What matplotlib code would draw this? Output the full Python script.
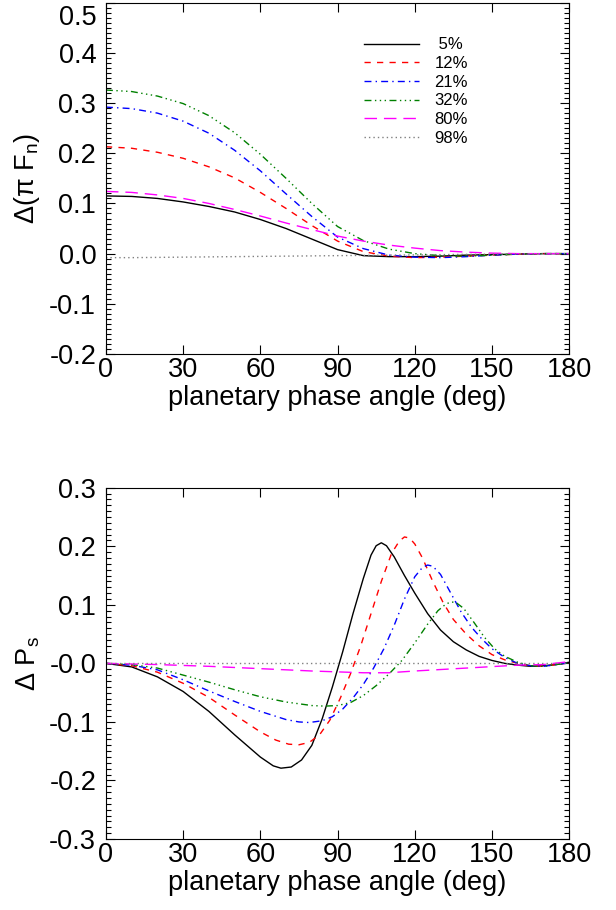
import matplotlib
matplotlib.use("Agg")
import matplotlib.pyplot as plt
from matplotlib.ticker import MultipleLocator, FixedLocator
from matplotlib.transforms import ScaledTranslation

plt.rcParams["font.family"] = ["Liberation Sans", "DejaVu Sans"]
plt.rcParams["mathtext.fontset"] = "custom"
plt.rcParams["mathtext.rm"] = "Liberation Sans"
plt.rcParams["mathtext.it"] = "Liberation Sans"

# ---- data ----
labels = [" 5%", "12%", "21%", "32%", "80%", "98%"]

# top panel: Delta(pi F_n) vs phase angle
flux_angle = [0, 10, 20, 30, 40, 50, 60, 70, 80, 90, 100, 110, 120, 130, 140, 150, 160, 170, 180]
flux_5 = [0.115, 0.114, 0.110, 0.103, 0.094, 0.083, 0.068, 0.050, 0.029, 0.008, -0.004, -0.006,
          -0.006, -0.005, -0.003, -0.002, -0.001, 0.000, 0.000]
flux_12 = [0.213, 0.210, 0.202, 0.190, 0.173, 0.151, 0.122, 0.090, 0.056, 0.025, 0.004, -0.005,
           -0.008, -0.007, -0.005, -0.003, -0.001, 0.000, 0.000]
flux_21 = [0.292, 0.289, 0.280, 0.264, 0.240, 0.206, 0.165, 0.119, 0.074, 0.033, 0.010, -0.003,
           -0.007, -0.008, -0.006, -0.003, -0.001, 0.000, 0.000]
flux_32 = [0.326, 0.323, 0.314, 0.299, 0.275, 0.241, 0.198, 0.150, 0.100, 0.054, 0.026, 0.009,
           0.000, -0.004, -0.005, -0.003, -0.001, 0.000, 0.000]
flux_80 = [0.124, 0.122, 0.117, 0.110, 0.100, 0.088, 0.075, 0.061, 0.048, 0.035, 0.025, 0.017,
           0.011, 0.006, 0.003, 0.001, 0.000, 0.000, 0.000]
flux_98 = [-0.008, -0.008, -0.0075, -0.007, -0.0065, -0.006, -0.0055, -0.005, -0.0045, -0.004,
           -0.0035, -0.003, -0.0025, -0.002, -0.0015, -0.001, -0.0005, 0.000, 0.000]

# bottom panel: Delta P_s vs phase angle
pol_angle_5 = [0, 10, 20, 30, 40, 50, 60, 65, 68, 72, 76, 80, 84, 88, 92, 96, 100, 103, 105, 107,
               109, 112, 116, 120, 125, 130, 135, 140, 145, 150, 155, 160, 165, 170, 175, 180]
pol_5 = [0.0, -0.006, -0.023, -0.048, -0.082, -0.122, -0.160, -0.175, -0.179, -0.177, -0.165, -0.140,
         -0.095, -0.040, 0.020, 0.085, 0.145, 0.185, 0.201, 0.206, 0.201, 0.182, 0.150, 0.120, 0.085,
         0.057, 0.037, 0.023, 0.012, 0.005, 0.000, -0.003, -0.005, -0.004, -0.002, 0.002]
pol_angle_12 = [0, 10, 20, 30, 40, 50, 60, 66, 71, 75, 79, 83, 87, 91, 95, 99, 103, 107, 111, 114,
                116, 118, 120, 123, 127, 131, 135, 140, 145, 150, 155, 160, 165, 170, 175, 180]
pol_12 = [0.0, -0.004, -0.015, -0.034, -0.058, -0.088, -0.117, -0.131, -0.138, -0.139, -0.135, -0.122,
          -0.097, -0.060, -0.018, 0.030, 0.085, 0.140, 0.188, 0.209, 0.216, 0.214, 0.204, 0.180, 0.140,
          0.104, 0.075, 0.050, 0.030, 0.015, 0.006, 0.000, -0.004, -0.005, -0.002, 0.001]
pol_angle_21 = [0, 10, 20, 30, 40, 50, 60, 70, 75, 79, 84, 88, 92, 96, 100, 104, 108, 112, 116, 120,
                123, 125, 127, 130, 134, 138, 142, 146, 150, 155, 160, 165, 170, 175, 180]
pol_21 = [0.0, -0.003, -0.011, -0.028, -0.047, -0.065, -0.082, -0.096, -0.100, -0.101, -0.098, -0.091,
          -0.078, -0.059, -0.036, -0.008, 0.025, 0.065, 0.110, 0.148, 0.164, 0.168, 0.166, 0.152, 0.120,
          0.088, 0.062, 0.042, 0.025, 0.010, 0.000, -0.004, -0.005, -0.002, 0.001]
pol_angle_32 = [0, 10, 20, 30, 40, 50, 60, 70, 80, 85, 90, 95, 100, 105, 110, 115, 120, 125, 129,
                132, 134, 136, 139, 143, 147, 151, 155, 160, 165, 170, 175, 180]
pol_32 = [0.0, -0.002, -0.008, -0.020, -0.032, -0.045, -0.057, -0.066, -0.072, -0.073, -0.072, -0.067,
          -0.055, -0.038, -0.018, 0.005, 0.035, 0.067, 0.090, 0.101, 0.105, 0.104, 0.094, 0.070, 0.045,
          0.025, 0.012, 0.002, -0.004, -0.005, -0.002, 0.001]
pol_angle_80 = [0, 20, 40, 60, 80, 100, 110, 120, 140, 160, 170, 180]
pol_80 = [0.0, -0.002, -0.005, -0.009, -0.013, -0.016, -0.016, -0.013, -0.008, -0.003, -0.002, 0.003]
pol_angle_98 = [0, 180]
pol_98 = [0.0, 0.0]

colors = ["black", "red", "blue", "green", "magenta", "grey"]
styles = ["-", (0, (4.5, 4.5)), (0, (5, 3, 1, 3)), (0, (5, 2.5, 1, 2.5, 1, 2.5, 1, 2.5)),
          (0, (9, 5)), (0, (1, 2.2))]

flux_series = [flux_5, flux_12, flux_21, flux_32, flux_80, flux_98]
pol_series = [(pol_angle_5, pol_5), (pol_angle_12, pol_12), (pol_angle_21, pol_21),
              (pol_angle_32, pol_32), (pol_angle_80, pol_80), (pol_angle_98, pol_98)]

fig = plt.figure(figsize=(6.16, 9.10), dpi=100)
ax1 = fig.add_axes([0.172, 0.611, 0.752, 0.386])
ax2 = fig.add_axes([0.172, 0.078, 0.752, 0.386])

for i, ys in enumerate(flux_series):
    ax1.plot(flux_angle, ys, color=colors[i], linestyle=styles[i], lw=1.0, label=labels[i])
for i, (xs, ys) in enumerate(pol_series):
    ax2.plot(xs, ys, color=colors[i], linestyle=styles[i], lw=1.0)


def style_axis(ax, ylim, yticks, yticklabels):
    ax.set_xlim(0, 180)
    ax.set_ylim(*ylim)
    ax.xaxis.set_major_locator(MultipleLocator(30))
    ax.yaxis.set_major_locator(FixedLocator(yticks))
    ax.yaxis.set_minor_locator(MultipleLocator(0.01))
    ax.set_yticklabels(yticklabels)
    ax.tick_params(which="both", direction="in", top=True, right=True, labelsize=19.5, width=0.8)
    ax.tick_params(which="major", length=6.5)
    ax.tick_params(axis="y", which="major", pad=7)
    ax.tick_params(axis="x", which="major", pad=2.5)
    ax.tick_params(which="minor", length=3.5)
    ax.tick_params(axis="x", which="minor", top=False, bottom=False)
    for sp in ax.spines.values():
        sp.set_linewidth(0.8)
    ax.set_xlabel("planetary phase angle (deg)", fontsize=19.5, labelpad=1)


style_axis(ax1, (-0.2, 0.5), [-0.2, -0.1, 0.0, 0.1, 0.2, 0.3, 0.4, 0.5],
           ["-0.2", "-0.1", "0.0", "0.1", "0.2", "0.3", "0.4", "0.5"])
style_axis(ax2, (-0.3, 0.3), [-0.3, -0.2, -0.1, 0.0, 0.1, 0.2, 0.3],
           ["-0.3", "-0.2", "-0.1", "-0.0", "0.1", "0.2", "0.3"])

# the topmost label sits just below the axes edge, as in the reference
top_lab = ax1.get_yticklabels()[-1]
top_lab.set_transform(top_lab.get_transform() + ScaledTranslation(0, -9 / 72, fig.dpi_scale_trans))

ax1.set_ylabel(r"Δ(π F$_\mathrm{n}$)", fontsize=19.5, labelpad=5)
ax2.set_ylabel(r"Δ P$_\mathrm{s}$", fontsize=19.5, labelpad=5)

ax1.legend(loc="upper left", bbox_to_anchor=(0.54, 0.925), frameon=False, fontsize=12,
           handlelength=3.3, handletextpad=0.9, labelspacing=0.22, borderpad=0)

fig.savefig("out.png", dpi=100)
